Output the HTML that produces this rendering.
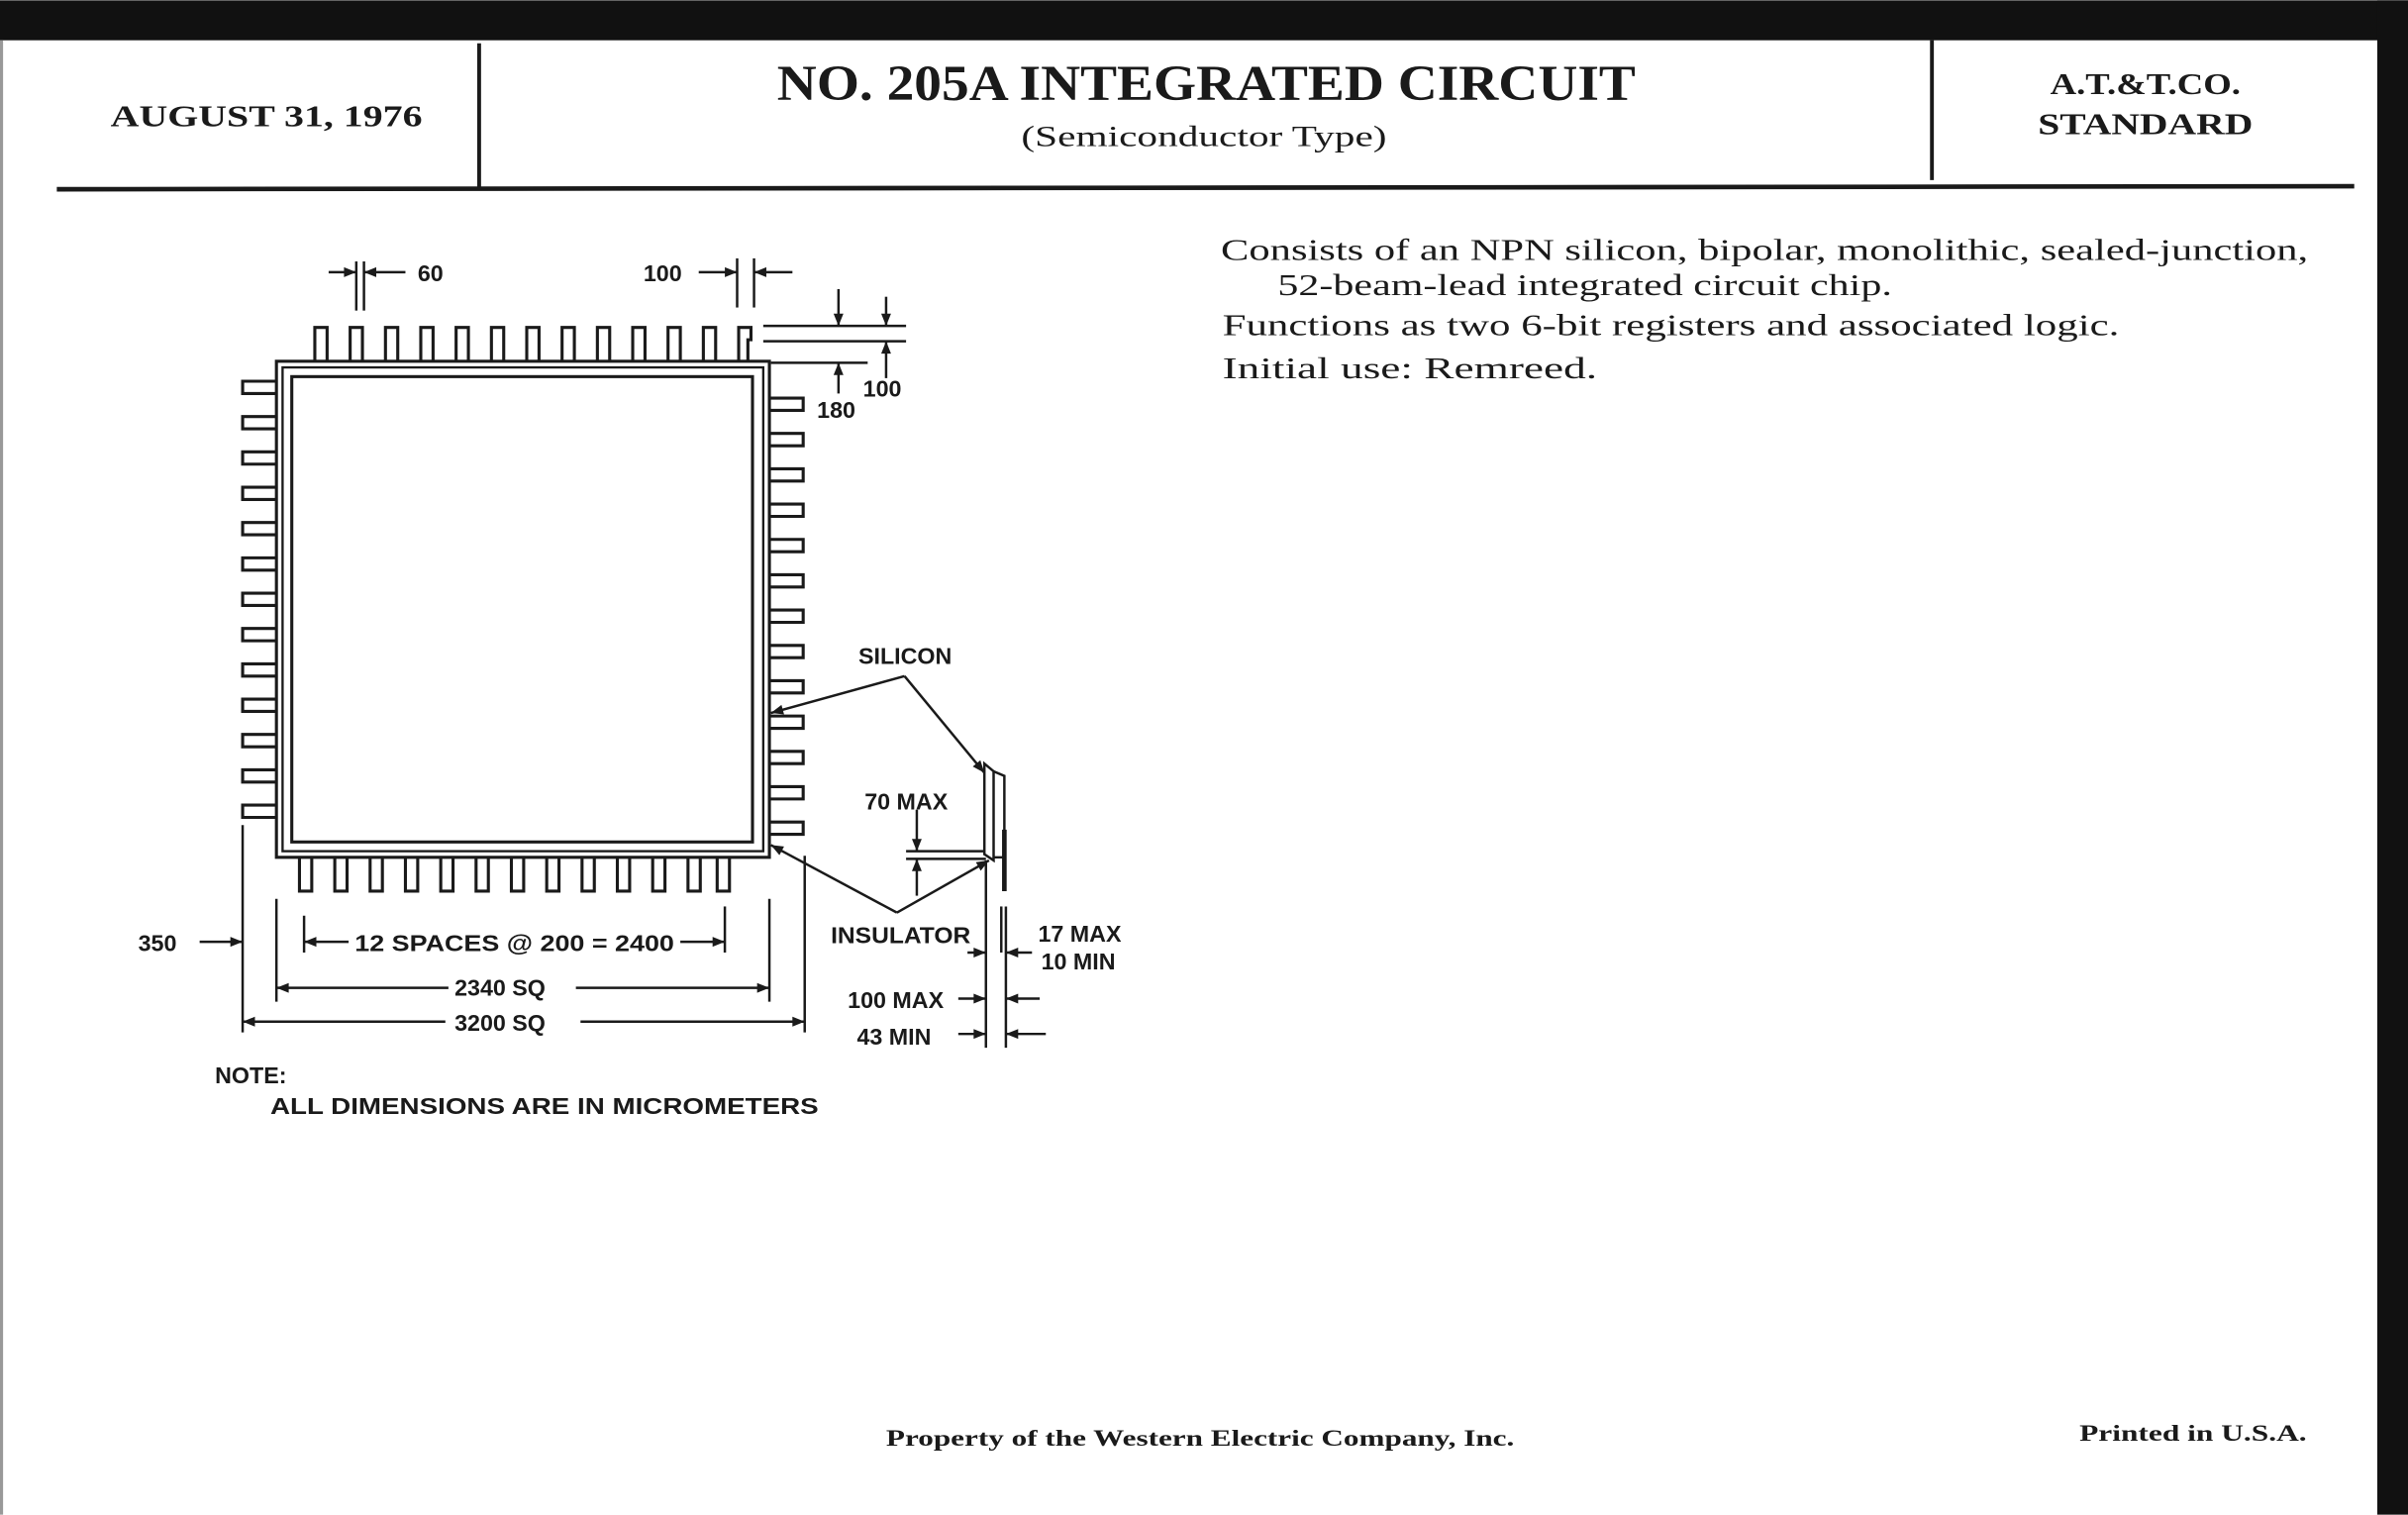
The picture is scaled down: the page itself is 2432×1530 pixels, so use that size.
<!DOCTYPE html>
<html><head><meta charset="utf-8"><style>
html,body{margin:0;padding:0;background:#fff}
svg{display:block}
.s{font-family:"Liberation Serif",serif;fill:#1a1a1a}
.d{font-family:"Liberation Sans",sans-serif;fill:#1a1a1a;font-size:15px;font-weight:600}
</style></head><body>
<svg width="2432" height="1530" viewBox="0 0 1568 986" xmlns="http://www.w3.org/2000/svg">
<defs><marker id="a" viewBox="0 0 10 10" refX="10" refY="5" markerWidth="6" markerHeight="5" orient="auto"><path d="M0,1 L10,5 L0,9z" fill="#1a1a1a"/></marker></defs>
<rect width="1568" height="986" fill="#fff"/>
<rect x="0" y="0" width="1568" height="26" fill="#111"/>
<rect x="1548" y="0" width="20" height="986" fill="#111"/>
<rect x="0" y="26" width="2" height="960" fill="#999"/>
<g stroke="#1a1a1a" fill="none">
<line x1="312" y1="28" x2="312" y2="122" stroke-width="2.5"/>
<line x1="1258" y1="26" x2="1258" y2="117" stroke-width="2.5"/>
<line x1="37" y1="123" x2="1533" y2="121" stroke-width="3"/>
</g>
<text class="s" x="72" y="82" font-size="20" font-weight="bold" textLength="203" lengthAdjust="spacingAndGlyphs">AUGUST 31, 1976</text>
<text class="s" x="506" y="65" font-size="33" font-weight="bold" textLength="559" lengthAdjust="spacingAndGlyphs">NO. 205A INTEGRATED CIRCUIT</text>
<text class="s" x="665" y="95" font-size="19" textLength="238" lengthAdjust="spacingAndGlyphs">(Semiconductor Type)</text>
<text class="s" x="1335" y="61" font-size="20" font-weight="bold" textLength="124" lengthAdjust="spacingAndGlyphs">A.T.&amp;T.CO.</text>
<text class="s" x="1327" y="87" font-size="20" font-weight="bold" textLength="140" lengthAdjust="spacingAndGlyphs">STANDARD</text>
<g class="s" font-size="20">
<text x="795" y="169" textLength="708" lengthAdjust="spacingAndGlyphs">Consists of an NPN silicon, bipolar, monolithic, sealed-junction,</text>
<text x="832" y="192" textLength="400" lengthAdjust="spacingAndGlyphs">52-beam-lead integrated circuit chip.</text>
<text x="796" y="218" textLength="584" lengthAdjust="spacingAndGlyphs">Functions as two 6-bit registers and associated logic.</text>
<text x="796" y="246" textLength="244" lengthAdjust="spacingAndGlyphs">Initial use:  Remreed.</text>
</g>
<text class="s" x="577" y="941" font-size="15" font-weight="bold" textLength="409" lengthAdjust="spacingAndGlyphs">Property of the Western Electric Company, Inc.</text>
<text class="s" x="1354" y="938" font-size="15" font-weight="bold" textLength="148" lengthAdjust="spacingAndGlyphs">Printed in U.S.A.</text>
<g stroke="#1a1a1a" fill="none" stroke-width="2">
<rect x="180" y="235" width="321" height="323"/>
<rect x="184" y="239" width="313" height="315" stroke-width="1.5"/>
<rect x="190" y="245" width="300" height="303"/>
<path d="M205,235 V213 H213 V235"/><path d="M228,235 V213 H236 V235"/><path d="M251,235 V213 H259 V235"/><path d="M274,235 V213 H282 V235"/><path d="M297,235 V213 H305 V235"/><path d="M320,235 V213 H328 V235"/><path d="M343,235 V213 H351 V235"/><path d="M366,235 V213 H374 V235"/><path d="M389,235 V213 H397 V235"/><path d="M412,235 V213 H420 V235"/><path d="M435,235 V213 H443 V235"/><path d="M458,235 V213 H466 V235"/><path d="M481,235 V213 H489 V221 H487 V235"/>
<path d="M195,558 V580 H203 V558"/><path d="M218,558 V580 H226 V558"/><path d="M241,558 V580 H249 V558"/><path d="M264,558 V580 H272 V558"/><path d="M287,558 V580 H295 V558"/><path d="M310,558 V580 H318 V558"/><path d="M333,558 V580 H341 V558"/><path d="M356,558 V580 H364 V558"/><path d="M379,558 V580 H387 V558"/><path d="M402,558 V580 H410 V558"/><path d="M425,558 V580 H433 V558"/><path d="M448,558 V580 H456 V558"/><path d="M467,558 V580 H475 V558"/>
<path d="M180,248 H158 V256 H180"/><path d="M180,271 H158 V279 H180"/><path d="M180,294 H158 V302 H180"/><path d="M180,317 H158 V325 H180"/><path d="M180,340 H158 V348 H180"/><path d="M180,363 H158 V371 H180"/><path d="M180,386 H158 V394 H180"/><path d="M180,409 H158 V417 H180"/><path d="M180,432 H158 V440 H180"/><path d="M180,455 H158 V463 H180"/><path d="M180,478 H158 V486 H180"/><path d="M180,501 H158 V509 H180"/><path d="M180,524 H158 V532 H180"/>
<path d="M501,259 H523 V267 H501"/><path d="M501,282 H523 V290 H501"/><path d="M501,305 H523 V313 H501"/><path d="M501,328 H523 V336 H501"/><path d="M501,351 H523 V359 H501"/><path d="M501,374 H523 V382 H501"/><path d="M501,397 H523 V405 H501"/><path d="M501,420 H523 V428 H501"/><path d="M501,443 H523 V451 H501"/><path d="M501,466 H523 V474 H501"/><path d="M501,489 H523 V497 H501"/><path d="M501,512 H523 V520 H501"/><path d="M501,535 H523 V543 H501"/>
</g>
<g stroke="#1a1a1a" fill="none" stroke-width="1.6">
<line x1="232" y1="170" x2="232" y2="202"/><line x1="237" y1="170" x2="237" y2="202"/>
<line x1="214" y1="177" x2="232" y2="177" marker-end="url(#a)"/><line x1="264" y1="177" x2="237" y2="177" marker-end="url(#a)"/>
<line x1="480" y1="168" x2="480" y2="200"/><line x1="491" y1="168" x2="491" y2="200"/>
<line x1="455" y1="177" x2="480" y2="177" marker-end="url(#a)"/><line x1="516" y1="177" x2="491" y2="177" marker-end="url(#a)"/>
<line x1="497" y1="212" x2="590" y2="212"/><line x1="497" y1="222" x2="590" y2="222"/><line x1="502" y1="236" x2="565" y2="236"/>
<line x1="546" y1="188" x2="546" y2="212" marker-end="url(#a)"/><line x1="546" y1="256" x2="546" y2="236" marker-end="url(#a)"/>
<line x1="577" y1="193" x2="577" y2="212" marker-end="url(#a)"/><line x1="577" y1="246" x2="577" y2="222" marker-end="url(#a)"/>
<line x1="158" y1="537" x2="158" y2="672"/><line x1="180" y1="585" x2="180" y2="652"/><line x1="198" y1="596" x2="198" y2="620"/>
<line x1="472" y1="590" x2="472" y2="620"/><line x1="501" y1="585" x2="501" y2="652"/><line x1="524" y1="557" x2="524" y2="672"/>
<line x1="227" y1="613" x2="198" y2="613" marker-end="url(#a)"/><line x1="443" y1="613" x2="472" y2="613" marker-end="url(#a)"/>
<line x1="292" y1="643" x2="180" y2="643" marker-end="url(#a)"/><line x1="375" y1="643" x2="501" y2="643" marker-end="url(#a)"/>
<line x1="290" y1="665" x2="158" y2="665" marker-end="url(#a)"/><line x1="378" y1="665" x2="524" y2="665" marker-end="url(#a)"/>
<line x1="130" y1="613" x2="158" y2="613" marker-end="url(#a)"/>
<line x1="589" y1="440" x2="502" y2="464" marker-end="url(#a)"/>
<line x1="589" y1="440" x2="641" y2="503" marker-end="url(#a)"/>
<line x1="584" y1="594" x2="502" y2="550" marker-end="url(#a)"/>
<line x1="584" y1="594" x2="644" y2="560" marker-end="url(#a)"/>
<path d="M641,497 L647,502 V560 L641,556 Z"/>
<path d="M647,502 L654,505 V558 H647"/>
<line x1="654" y1="540" x2="654" y2="580" stroke-width="3"/>
<line x1="590" y1="554" x2="641" y2="554"/><line x1="590" y1="559" x2="642" y2="559"/>
<line x1="597" y1="527" x2="597" y2="554" marker-end="url(#a)"/><line x1="597" y1="583" x2="597" y2="559" marker-end="url(#a)"/>
<line x1="642" y1="560" x2="642" y2="682"/><line x1="655" y1="590" x2="655" y2="682"/><line x1="652" y1="590" x2="652" y2="620"/>
<line x1="630" y1="620" x2="642" y2="620" marker-end="url(#a)"/><line x1="672" y1="620" x2="655" y2="620" marker-end="url(#a)"/>
<line x1="624" y1="650" x2="642" y2="650" marker-end="url(#a)"/><line x1="677" y1="650" x2="655" y2="650" marker-end="url(#a)"/>
<line x1="624" y1="673" x2="642" y2="673" marker-end="url(#a)"/><line x1="681" y1="673" x2="655" y2="673" marker-end="url(#a)"/>
</g>
<g class="d">
<text x="272" y="183">60</text>
<text x="419" y="183">100</text>
<text x="532" y="272">180</text>
<text x="562" y="258">100</text>
<text x="559" y="432">SILICON</text>
<text x="563" y="527">70 MAX</text>
<text x="541" y="614" textLength="91" lengthAdjust="spacingAndGlyphs">INSULATOR</text>
<text x="676" y="613">17 MAX</text>
<text x="678" y="631">10 MIN</text>
<text x="552" y="656">100 MAX</text>
<text x="558" y="680">43 MIN</text>
<text x="90" y="619">350</text>
<text x="231" y="619" textLength="208" lengthAdjust="spacingAndGlyphs">12 SPACES @ 200 = 2400</text>
<text x="296" y="648">2340 SQ</text>
<text x="296" y="671">3200 SQ</text>
<text x="140" y="705">NOTE:</text>
<text x="176" y="725" textLength="357" lengthAdjust="spacingAndGlyphs">ALL DIMENSIONS ARE IN MICROMETERS</text>
</g>
</svg>
</body></html>
